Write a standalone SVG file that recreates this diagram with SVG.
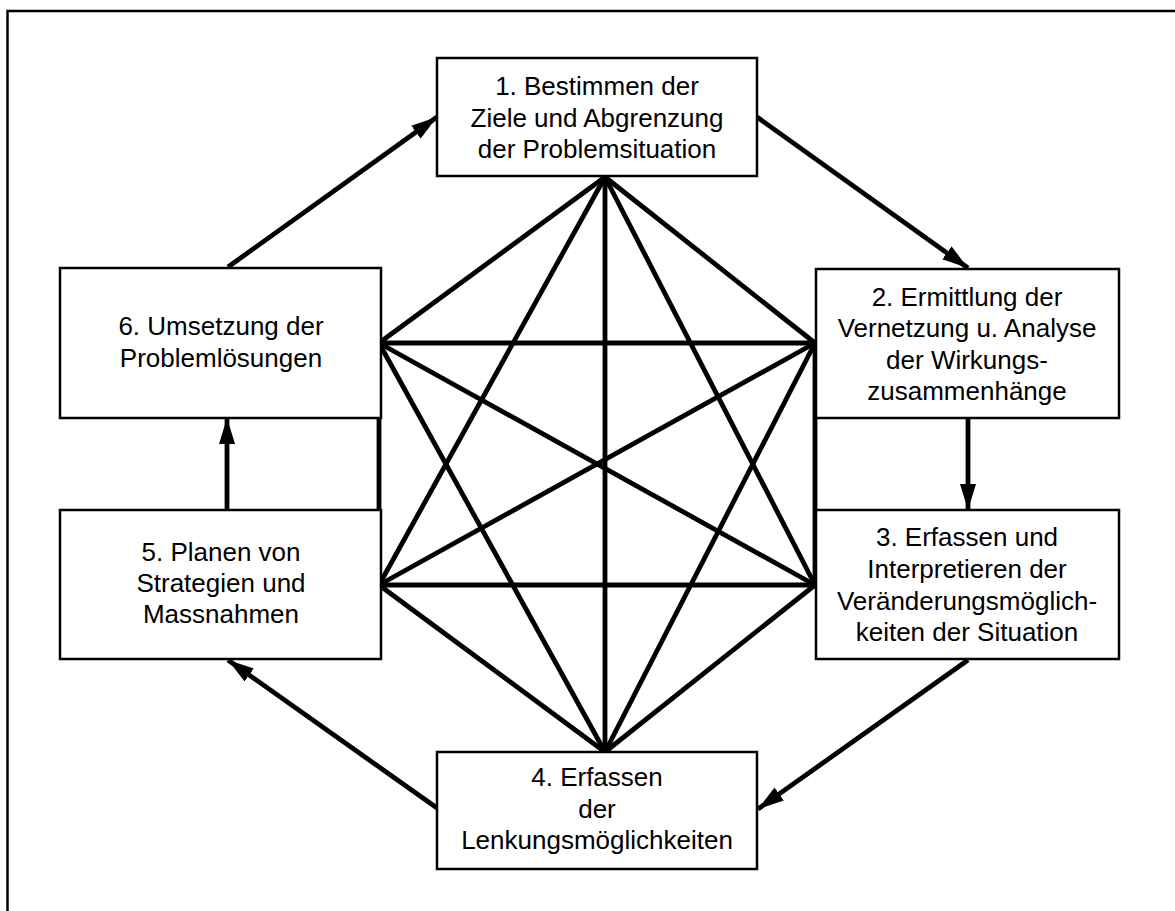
<svg xmlns="http://www.w3.org/2000/svg" width="1175" height="911" viewBox="0 0 1175 911">
  <style>
    .frame { fill: none; stroke: #000; stroke-width: 2.5; }
    .box { fill: #fff; stroke: #000; stroke-width: 2.5; }
    .lbl { font-family: "Liberation Sans", Arial, sans-serif; font-size: 26px; fill: #000; text-anchor: middle; }
    .star line { stroke: #000; stroke-width: 4.8; stroke-linecap: round; }
    .flow line { stroke: #000; stroke-width: 4.8; marker-end: url(#head); }
  </style>
  <defs>
    <marker id="head" markerUnits="userSpaceOnUse" viewBox="0 0 26 16" refX="26" refY="8" markerWidth="26" markerHeight="16" orient="auto">
      <path d="M0,0 L26,8 L0,16 Z" fill="#000"/>
    </marker>
  </defs>

  <rect width="1175" height="911" fill="#fff"/>
  <path class="frame" d="M7.5,1200 V11 H1200"/>

  <!-- complete network between the six steps -->
  <g id="connectors">
    <g class="star">
      <line x1="605" y1="177" x2="379" y2="343"/>
      <line x1="605" y1="177" x2="815" y2="343"/>
      <line x1="605" y1="177" x2="379" y2="585"/>
      <line x1="605" y1="177" x2="815" y2="585"/>
      <line x1="605" y1="177" x2="605" y2="752"/>
      <line x1="379" y1="343" x2="815" y2="343"/>
      <line x1="379" y1="343" x2="379" y2="585"/>
      <line x1="379" y1="343" x2="815" y2="585"/>
      <line x1="379" y1="343" x2="605" y2="752"/>
      <line x1="815" y1="343" x2="815" y2="585"/>
      <line x1="815" y1="343" x2="379" y2="585"/>
      <line x1="815" y1="343" x2="605" y2="752"/>
      <line x1="379" y1="585" x2="815" y2="585"/>
      <line x1="379" y1="585" x2="605" y2="752"/>
      <line x1="815" y1="585" x2="605" y2="752"/>
    </g>
    <!-- cycle of steps -->
    <g class="flow">
      <line x1="228" y1="267" x2="437" y2="117"/>
      <line x1="757" y1="117" x2="968" y2="268"/>
      <line x1="968" y1="418" x2="968" y2="510"/>
      <line x1="968" y1="660" x2="758" y2="809"/>
      <line x1="437" y1="808" x2="228" y2="660"/>
      <line x1="227" y1="510" x2="227" y2="418"/>
    </g>
  </g>

  <g id="step1">
    <rect class="box" x="437" y="58" width="320" height="118"/>
    <text class="lbl" x="597" y="95">1. Bestimmen der</text>
    <text class="lbl" x="597" y="127">Ziele und Abgrenzung</text>
    <text class="lbl" x="597" y="158">der Problemsituation</text>
  </g>
  <g id="step2">
    <rect class="box" x="816" y="269" width="303" height="149"/>
    <text class="lbl" x="967" y="306">2. Ermittlung der</text>
    <text class="lbl" x="967" y="337">Vernetzung u. Analyse</text>
    <text class="lbl" x="967" y="369">der Wirkungs-</text>
    <text class="lbl" x="967" y="400">zusammenhänge</text>
  </g>
  <g id="step3">
    <rect class="box" x="816" y="510" width="303" height="149"/>
    <text class="lbl" x="967" y="546">3. Erfassen und</text>
    <text class="lbl" x="967" y="578">Interpretieren der</text>
    <text class="lbl" x="967" y="610">Veränderungsmöglich-</text>
    <text class="lbl" x="967" y="641">keiten der Situation</text>
  </g>
  <g id="step4">
    <rect class="box" x="437" y="752" width="320" height="117"/>
    <text class="lbl" x="597" y="786">4. Erfassen</text>
    <text class="lbl" x="597" y="818">der</text>
    <text class="lbl" x="597" y="849">Lenkungsmöglichkeiten</text>
  </g>
  <g id="step5">
    <rect class="box" x="60" y="510" width="321" height="149"/>
    <text class="lbl" x="221" y="561">5. Planen von</text>
    <text class="lbl" x="221" y="592">Strategien und</text>
    <text class="lbl" x="221" y="623">Massnahmen</text>
  </g>
  <g id="step6">
    <rect class="box" x="60" y="268" width="321" height="150"/>
    <text class="lbl" x="221" y="335">6. Umsetzung der</text>
    <text class="lbl" x="221" y="367">Problemlösungen</text>
  </g>
</svg>
